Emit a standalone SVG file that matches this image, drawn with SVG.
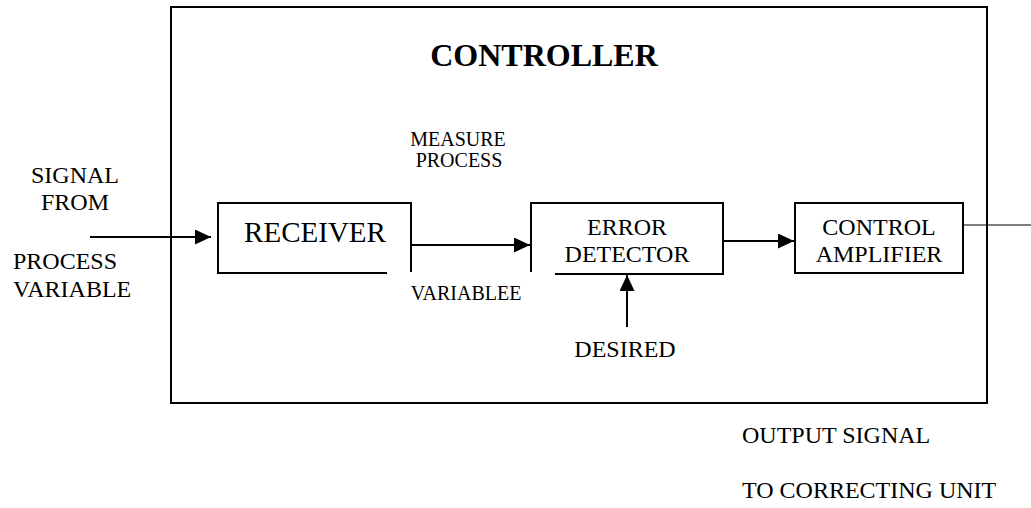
<svg xmlns="http://www.w3.org/2000/svg" width="1031" height="508" viewBox="0 0 1031 508">
  <style>
    text { fill: #000; }
    .t24 { font-size: 24px; }
    .t20 { font-size: 20px; }
    .t28 { font-size: 29px; }
    .title { font-size: 32px; font-weight: bold; }
    .box { fill: none; stroke: #000; stroke-width: 2; }
    .wire { fill: none; stroke: #000; stroke-width: 2; }
    .thin { fill: none; stroke: #000; stroke-width: 1.2; }
  </style>
  <defs>
    <marker id="arrow" markerUnits="userSpaceOnUse" markerWidth="16" markerHeight="15" refX="16" refY="7.5" orient="auto">
      <path d="M0,0 L16,7.5 L0,15 Z" fill="#000"/>
    </marker>
  </defs>

  <rect fill="#fff" x="0" y="0" width="1031" height="508"/>

  <g font-family="'Liberation Serif', 'DejaVu Serif', serif">
    <!-- controller enclosure -->
    <g id="controller">
      <rect class="box" x="171" y="7" width="816" height="396"/>
      <text class="title" x="544" y="66" text-anchor="middle">CONTROLLER</text>
    </g>

    <!-- receiver block (open lower right corner) -->
    <g id="receiver">
      <path class="box" d="M387,273 H218 V203 H411 V272"/>
      <text class="t28" x="315" y="242" text-anchor="middle">RECEIVER</text>
    </g>

    <!-- error detector block (open lower left corner) -->
    <g id="error-detector">
      <path class="box" d="M531,272 V203 H723 V274 H555"/>
      <text class="t24" x="627" y="235" text-anchor="middle">ERROR</text>
      <text class="t24" x="627" y="262" text-anchor="middle">DETECTOR</text>
    </g>

    <!-- control amplifier block -->
    <g id="control-amplifier">
      <rect class="box" x="795" y="203" width="168" height="70"/>
      <text class="t24" x="879" y="235" text-anchor="middle">CONTROL</text>
      <text class="t24" x="879" y="262" text-anchor="middle">AMPLIFIER</text>
    </g>

    <!-- free labels -->
    <g id="input-label">
      <text class="t24" x="75" y="183" text-anchor="middle">SIGNAL</text>
      <text class="t24" x="75" y="210" text-anchor="middle">FROM</text>
      <text class="t24" x="13" y="269">PROCESS</text>
      <text class="t24" x="13" y="297">VARIABLE</text>
    </g>
    <g id="measure-label">
      <text class="t20" x="458" y="146" text-anchor="middle">MEASURE</text>
      <text class="t20" x="459" y="167" text-anchor="middle">PROCESS</text>
      <text class="t20" x="466" y="300" text-anchor="middle">VARIABLEE</text>
    </g>
    <g id="desired-label">
      <text class="t24" x="625" y="357" text-anchor="middle">DESIRED</text>
    </g>
    <g id="output-label">
      <text class="t24" x="742" y="443">OUTPUT SIGNAL</text>
      <text class="t24" x="742" y="498">TO CORRECTING UNIT</text>
    </g>
  </g>

  <!-- signal paths -->
  <g id="connectors">
    <line class="wire" x1="90" y1="237" x2="211" y2="237" marker-end="url(#arrow)"/>
    <line class="wire" x1="411" y1="245" x2="530" y2="245" marker-end="url(#arrow)"/>
    <line class="wire" x1="723" y1="241" x2="794" y2="241" marker-end="url(#arrow)"/>
    <line class="wire" x1="627" y1="327" x2="627" y2="275" marker-end="url(#arrow)"/>
    <line class="thin" x1="963" y1="225" x2="1031" y2="225"/>
  </g>
</svg>
